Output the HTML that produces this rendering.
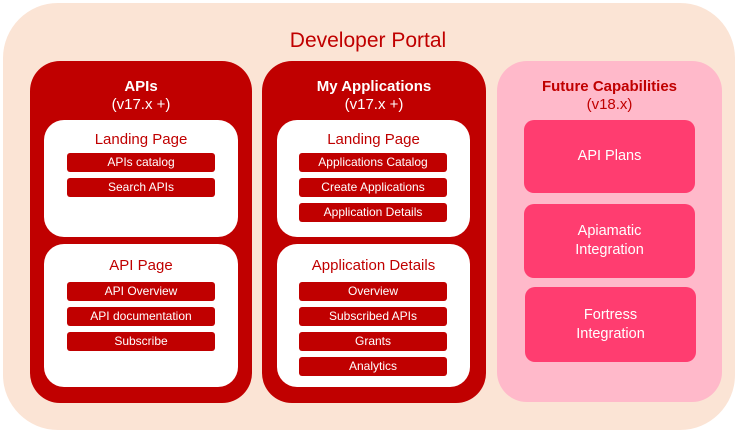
<!DOCTYPE html>
<html><head><style>
body{margin:0;width:736px;height:432px;background:#fff;font-family:"Liberation Sans",sans-serif;position:relative;overflow:hidden}
div{position:absolute;box-sizing:border-box}
.t{text-align:center;white-space:nowrap}
.col{background:#c00000;border-radius:30px}
.w{background:#fff;border-radius:20px}
.b{background:#c00000;border-radius:3px;color:#fff;font-size:12px;line-height:19px;text-align:center;height:19px}
.h{color:#c00000;font-size:15px;text-align:center;width:100%}
.f{background:#ff3d70;border-radius:10px;color:#fff;font-size:14.5px;display:flex;align-items:center;justify-content:center;text-align:center;line-height:19px}
</style></head><body>
<div style="left:3px;top:3px;width:732px;height:427px;background:#fbe4d5;border-radius:55px"></div>
<div class="t" style="left:0;width:736px;top:29px;font-size:21px;color:#c00000">Developer Portal</div>

<div class="col" style="left:30px;top:61px;width:222px;height:342px"></div>
<div class="t" style="left:30px;width:222px;top:78px;color:#fff;font-size:15px;font-weight:bold">APIs</div>
<div class="t" style="left:30px;width:222px;top:96px;color:#fff;font-size:15px">(v17.x +)</div>
<div class="w" style="left:44px;top:120px;width:194px;height:117px"><div class="h" style="top:11px">Landing Page</div></div>
<div class="b" style="left:67px;top:153px;width:148px">APIs catalog</div>
<div class="b" style="left:67px;top:178px;width:148px">Search APIs</div>
<div class="w" style="left:44px;top:244px;width:194px;height:143px"><div class="h" style="top:13px">API Page</div></div>
<div class="b" style="left:67px;top:282px;width:148px">API Overview</div>
<div class="b" style="left:67px;top:307px;width:148px">API documentation</div>
<div class="b" style="left:67px;top:332px;width:148px">Subscribe</div>

<div class="col" style="left:262px;top:61px;width:224px;height:342px"></div>
<div class="t" style="left:262px;width:224px;top:78px;color:#fff;font-size:15px;font-weight:bold">My Applications</div>
<div class="t" style="left:262px;width:224px;top:96px;color:#fff;font-size:15px">(v17.x +)</div>
<div class="w" style="left:277px;top:120px;width:193px;height:117px"><div class="h" style="top:11px">Landing Page</div></div>
<div class="b" style="left:299px;top:153px;width:148px">Applications Catalog</div>
<div class="b" style="left:299px;top:178px;width:148px">Create Applications</div>
<div class="b" style="left:299px;top:203px;width:148px">Application Details</div>
<div class="w" style="left:277px;top:244px;width:193px;height:143px"><div class="h" style="top:13px">Application Details</div></div>
<div class="b" style="left:299px;top:282px;width:148px">Overview</div>
<div class="b" style="left:299px;top:307px;width:148px">Subscribed APIs</div>
<div class="b" style="left:299px;top:332px;width:148px">Grants</div>
<div class="b" style="left:299px;top:357px;width:148px">Analytics</div>

<div style="left:497px;top:61px;width:225px;height:341px;background:#ffb9ca;border-radius:30px"></div>
<div class="t" style="left:497px;width:225px;top:78px;color:#c00000;font-size:15px;font-weight:bold">Future Capabilities</div>
<div class="t" style="left:497px;width:225px;top:96px;color:#c00000;font-size:15px">(v18.x)</div>
<div class="f" style="left:524px;top:120px;width:171px;height:73px">API Plans</div>
<div class="f" style="left:524px;top:204px;width:171px;height:74px">Apiamatic<br>Integration</div>
<div class="f" style="left:525px;top:287px;width:171px;height:75px">Fortress<br>Integration</div>
</body></html>
